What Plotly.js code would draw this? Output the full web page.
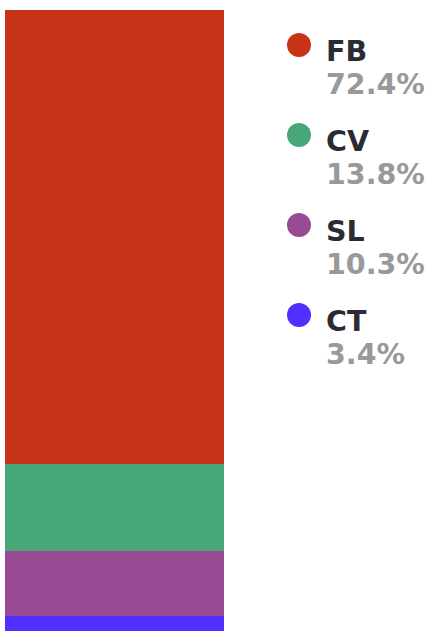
<!DOCTYPE html>
<html>
<head>
<meta charset="utf-8">
<script src="https://cdn.plot.ly/plotly-3.0.1.min.js"></script>
<style>
html,body{margin:0;padding:0;overflow:hidden;background:#fff;}
#chart{width:427px;height:631px;}
</style>
</head>
<body>
<div id="chart"></div>
<script>
// Data
const categories = ['FB', 'CV', 'SL', 'CT'];
const shares = [72.4, 13.8, 10.3, 3.4];
const percentLabels = ['72.4%', '13.8%', '10.3%', '3.4%'];
const colors = ['#c83318', '#48a779', '#984a93', '#5030ff'];

const FONT = '"DejaVu Sans", Inter, sans-serif';

// stacked bar: bottom to top = CT, SL, CV, FB
const traces = [];
for (let i = categories.length - 1; i >= 0; i--) {
  traces.push({
    type: 'bar',
    name: categories[i],
    x: ['share'],
    y: [shares[i]],
    marker: {color: colors[i], line: {width: 0}},
    xaxis: 'x', yaxis: 'y',
    hoverinfo: 'skip',
    showlegend: false
  });
}

// legend dots
traces.push({
  type: 'scatter',
  mode: 'markers',
  x: categories.map(() => 0),
  y: categories,
  xaxis: 'x2', yaxis: 'y2',
  marker: {size: 24, color: colors, line: {width: 0}},
  hoverinfo: 'skip',
  showlegend: false
});

const annotations = categories.map((c, i) => ({
  xref: 'x2', yref: 'y2', x: 0, y: c,
  text: '<span style="font-size:28.5px;fill:#2b2b33">' + c + '</span><br>' +
        '<span style="font-size:28.5px;fill:#999999">' + percentLabels[i] + '</span>',
  showarrow: false, xanchor: 'left', yanchor: 'middle', align: 'left',
  xshift: 25, yshift: -23,
  font: {family: FONT, size: 25, color: '#2b2b33', weight: 700}
}));

const layout = {
  width: 427, height: 631,
  margin: {l: 5, r: 0, t: 9, b: 0, pad: 0},
  paper_bgcolor: '#fff', plot_bgcolor: 'rgba(0,0,0,0)',
  barmode: 'stack', bargap: 0,
  showlegend: false,
  xaxis: {domain: [0, 219/422], range: [-0.5, 0.5], visible: false, fixedrange: true},
  yaxis: {range: [0.96, 100], visible: false, fixedrange: true},
  xaxis2: {domain: [0.3934, 1], range: [-1, 1], visible: false, anchor: 'y2', fixedrange: true},
  yaxis2: {type: 'category', categoryarray: categories, range: [6.511, -0.4], visible: false, anchor: 'x2', fixedrange: true},
  annotations: annotations
};

Plotly.newPlot('chart', traces, layout, {displayModeBar: false, staticPlot: true});
</script>
</body>
</html>
